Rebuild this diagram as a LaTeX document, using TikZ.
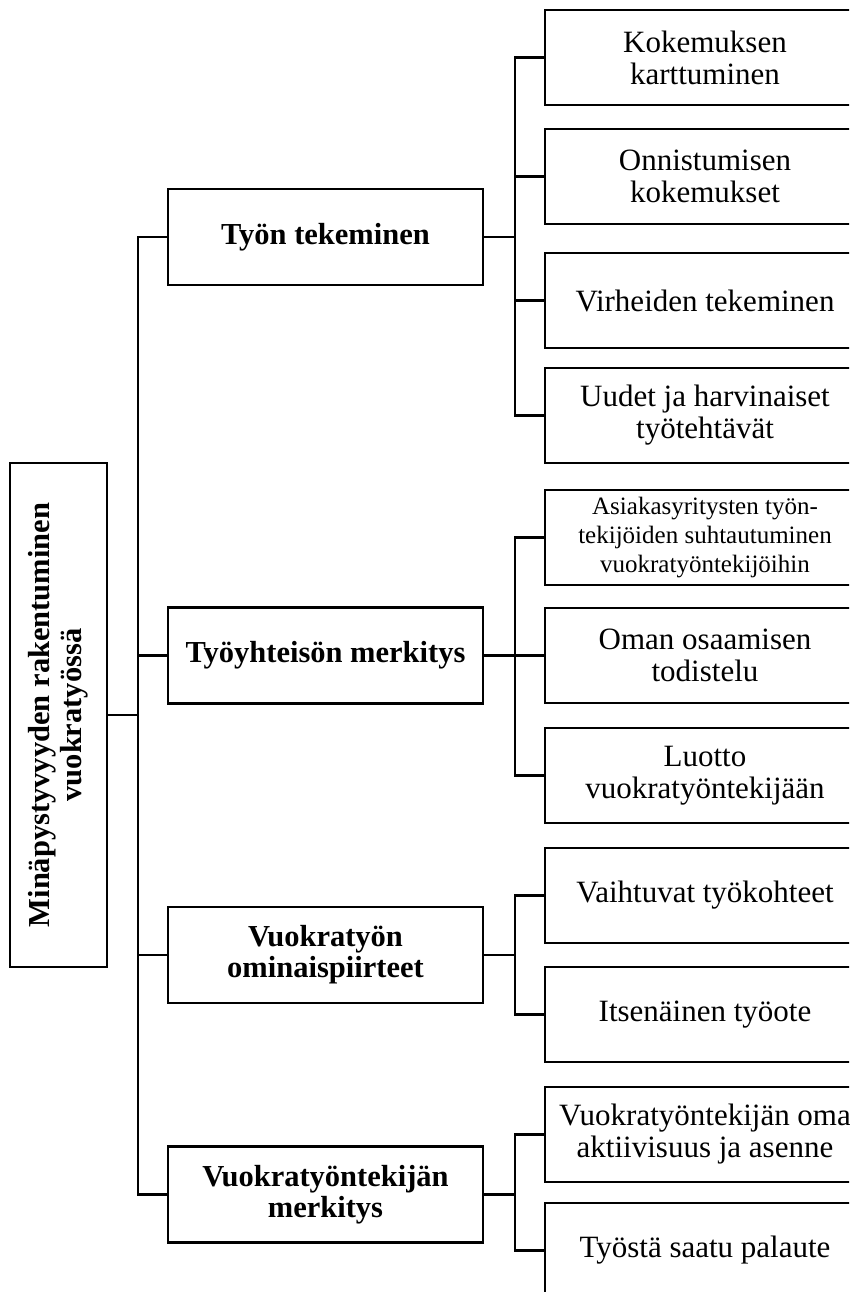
\documentclass[tikz,border=0pt]{standalone}
\usepackage{fontspec}
\setmainfont{Liberation Serif}
\begin{document}
\begin{tikzpicture}[x=1pt,y=-1pt,
  box/.style={draw=black, line width=2.4pt, inner sep=0pt, align=center, fill=white},
  rootbox/.style={box, minimum width=97pt, minimum height=504pt},
  mainbox/.style={box, minimum width=315pt, minimum height=96pt,
    font=\fontsize{30.5}{31}\selectfont\bfseries},
  leafbox/.style={box, minimum width=320pt, minimum height=95pt,
    font=\fontsize{31}{32}\selectfont},
  smallleaf/.style={leafbox, font=\fontsize{25}{29}\selectfont},
  link/.style={draw=black, line width=2.4pt}
]
\path[use as bounding box, clip] (0,0) rectangle (849,1292);
\fill[white] (0,0) rectangle (849,1292);

% root
\node[rootbox] (root) at (58.5,715) {};
\node[rotate=90, align=center, font=\fontsize{30.5}{32}\selectfont\bfseries]
  (roottext) at (root.center) {Minäpystyvyyden rakentuminen\\vuokratyössä};

% main themes
\node[mainbox] (t1) at (325.5,237)   {Työn tekeminen};
\node[mainbox] (t2) at (325.5,655.5) {Työyhteisön merkitys};
\node[mainbox] (t3) at (325.5,955)   {Vuokratyön\\ominaispiirteet};
\node[mainbox] (t4) at (325.5,1194.5){Vuokratyöntekijän\\merkitys};

% sub themes
\node[leafbox] (a1) at (705,57.5)   {Kokemuksen\\karttuminen};
\node[leafbox] (a2) at (705,176.5)  {Onnistumisen\\kokemukset};
\node[leafbox] (a3) at (705,300.5)  {Virheiden tekeminen};
\node[leafbox] (a4) at (705,415.5)  {Uudet ja harvinaiset\\työtehtävät};
\node[smallleaf] (b1) at (705,537.5) {Asiakasyritysten työn-\\tekijöiden suhtautuminen\\vuokratyöntekijöihin};
\node[leafbox] (b2) at (705,655.5)  {Oman osaamisen\\todistelu};
\node[leafbox] (b3) at (705,775.5)  {Luotto\\vuokratyöntekijään};
\node[leafbox] (c1) at (705,895.5)  {Vaihtuvat työkohteet};
\node[leafbox] (c2) at (705,1014.5) {Itsenäinen työote};
\node[leafbox] (d1) at (705,1134.5) {Vuokratyöntekijän oma\\aktiivisuus ja asenne};
\node[leafbox] (d2) at (705,1250.5) {Työstä saatu palaute};

% trunk from root to main themes
\draw[link] (root.east) -- ++(30,0) coordinate (tr);
\draw[link] (tr) |- (t1.west);
\draw[link] (tr) |- (t4.west);
\draw[link] (tr) |- (t2.west);
\draw[link] (tr) |- (t3.west);

% branches from main themes to sub themes
\draw[link] (t1.east) -- ++(31,0) coordinate (j1);
\foreach \n in {a1,a2,a3,a4} \draw[link] (j1) |- (\n.west);
\draw[link] (t2.east) -- ++(31,0) coordinate (j2);
\foreach \n in {b1,b2,b3} \draw[link] (j2) |- (\n.west);
\draw[link] (t3.east) -- ++(31,0) coordinate (j3);
\foreach \n in {c1,c2} \draw[link] (j3) |- (\n.west);
\draw[link] (t4.east) -- ++(31,0) coordinate (j4);
\foreach \n in {d1,d2} \draw[link] (j4) |- (\n.west);
\end{tikzpicture}
\end{document}
